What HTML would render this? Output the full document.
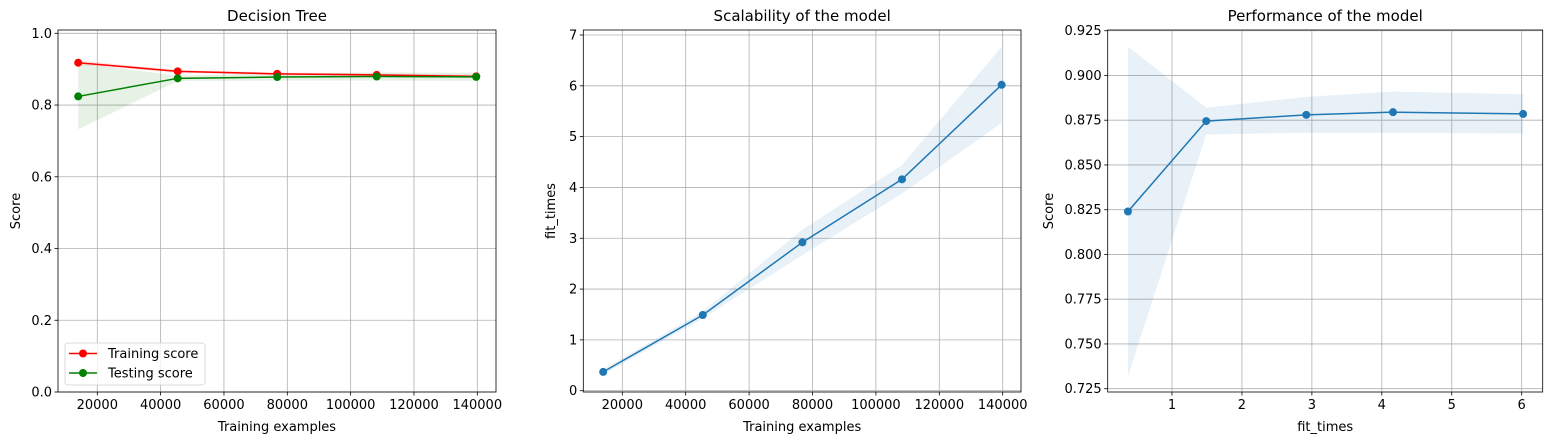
<!DOCTYPE html>
<html><head><meta charset="utf-8"><style>
body{margin:0;background:#fff;}
svg{display:block;font-family:"DejaVu Sans","Liberation Sans",sans-serif;}
</style></head><body>
<svg id="fig" width="1556" height="443" viewBox="0 0 1556 443"></svg>
<script>
const trainSizes=[13966,45389,76812,108235,139658];
const trainMean=[0.918,0.894,0.887,0.884,0.880];
const trainStd=[0.006,0.004,0.004,0.004,0.004];
const testMean=[0.824,0.8745,0.878,0.8795,0.8785];
const testStd=[0.092,0.0075,0.010,0.0115,0.011];
const fitMean=[0.37,1.49,2.92,4.16,6.02];
const fitStd=[0.05,0.07,0.25,0.28,0.75];
const p1YTicks=[0,0.2,0.4,0.6,0.8,1.0];
const sizeXTicks=[20000,40000,60000,80000,100000,120000,140000];
const p2YTicks=[0,1,2,3,4,5,6,7];
const p3YTicks=[0.725,0.75,0.775,0.8,0.825,0.85,0.875,0.9,0.925];
const p3XTicks=[1,2,3,4,5,6];

const NS="http://www.w3.org/2000/svg";
const svg=document.getElementById('fig');
function mk(tag,attrs,parent){const e=document.createElementNS(NS,tag);for(const k in attrs)e.setAttribute(k,attrs[k]);(parent||svg).appendChild(e);return e;}
function lin(d0,d1,r0,r1){return v=>r0+(v-d0)*(r1-r0)/(d1-d0);}

function panel(o){
  const g=mk('g',{});
  
  
  const {L,R,T,B}=o;
  const X=lin(o.xd[0],o.xd[1],o.xr[0],o.xr[1]);
  const Y=lin(o.yd[0],o.yd[1],o.yr[0],o.yr[1]);
  // grid
  o.xt.forEach(v=>{const l=mk('line',{x1:X(v),x2:X(v),y1:T,y2:B,stroke:'#b0b0b0','stroke-width':0.8},g);
    });
  o.yt.forEach(v=>{const l=mk('line',{x1:L,x2:R,y1:Y(v),y2:Y(v),stroke:'#b0b0b0','stroke-width':0.8},g);
    });
  // bands
  o.bands.forEach(b=>{
    let pts=b.x.map((x,i)=>X(x)+','+Y(b.m[i]+b.s[i]));
    pts=pts.concat(b.x.map((x,i)=>X(x)+','+Y(b.m[i]-b.s[i])).reverse());
    const p=mk('polygon',{points:pts.join(' '),fill:b.c,'fill-opacity':0.1,stroke:'none'},g);
    
  });
  o.lines.forEach(s=>{
    const pl=mk('polyline',{points:s.x.map((x,i)=>X(x)+','+Y(s.y[i])).join(' '),fill:'none',stroke:s.c,'stroke-width':1.5},g);
    
    s.x.forEach((x,i)=>{const c=mk('circle',{cx:X(x),cy:Y(s.y[i]),r:4,fill:s.c},g);
      });
  });
  const fr=mk('rect',{x:L,y:T,width:R-L,height:B-T,fill:'none',stroke:'#000','stroke-width':0.8},g);
  
  o.xt.forEach(v=>{mk('line',{x1:X(v),x2:X(v),y1:B,y2:B+3.5,stroke:'#000','stroke-width':0.8},g);
    const t=mk('text',{x:X(v),y:B+17,'font-size':13,'text-anchor':'middle',fill:'#000'},g);t.textContent=o.xf(v);
    });
  o.yt.forEach(v=>{mk('line',{x1:L-3.5,x2:L,y1:Y(v),y2:Y(v),stroke:'#000','stroke-width':0.8},g);
    const t=mk('text',{x:L-6,y:Y(v)+4.5,'font-size':13,'text-anchor':'end',fill:'#000'},g);t.textContent=o.yf(v);
    });
  const ti=mk('text',{x:(L+R)/2,y:21,'font-size':15,'text-anchor':'middle',fill:'#000'},g);ti.textContent=o.title;
  
  const xl=mk('text',{x:(L+R)/2,y:431,'font-size':13,'text-anchor':'middle',fill:'#000'},g);xl.textContent=o.xlabel;
  
  const yx=o.ylx, yy=(T+B)/2;
  const yl=mk('text',{x:yx,y:yy,'font-size':13,'text-anchor':'middle',fill:'#000',transform:`rotate(-90 ${yx} ${yy})`},g);yl.textContent=o.ylabel;
  
  return g;
}

panel({name:'decision-tree-panel',L:58,R:496,T:30,B:392,xd:[20000,140000],xr:[97.3,477.3],yd:[0,1],yr:[392,33.3],
  xt:sizeXTicks,yt:p1YTicks,xf:v=>String(v),yf:v=>v.toFixed(1),title:'Decision Tree',xlabel:'Training examples',ylabel:'Score',ylx:20,
  bands:[{name:'training-band',x:trainSizes,m:trainMean,s:trainStd,c:'red'},{name:'testing-band',x:trainSizes,m:testMean,s:testStd,c:'green'}],
  lines:[{name:'training-score',x:trainSizes,y:trainMean,c:'red'},{name:'testing-score',x:trainSizes,y:testMean,c:'green'}]});

panel({name:'scalability-panel',L:583.3,R:1021,T:30,B:392,xd:[20000,140000],xr:[622.3,1002.7],yd:[0,7],yr:[390.7,35],
  xt:sizeXTicks,yt:p2YTicks,xf:v=>String(v),yf:v=>String(v),title:'Scalability of the model',xlabel:'Training examples',ylabel:'fit_times',ylx:555,
  bands:[{name:'fit-time-band',x:trainSizes,m:fitMean,s:fitStd,c:'#1f77b4'}],
  lines:[{name:'fit-time',x:trainSizes,y:fitMean,c:'#1f77b4'}]});

panel({name:'performance-panel',L:1107.7,R:1542.7,T:30,B:392,xd:[1,6],xr:[1172,1521.7],yd:[0.725,0.925],yr:[388.7,30.7],
  xt:p3XTicks,yt:p3YTicks,xf:v=>String(v),yf:v=>v.toFixed(3),title:'Performance of the model',xlabel:'fit_times',ylabel:'Score',ylx:1053,
  bands:[{name:'performance-band',x:fitMean,m:testMean,s:testStd,c:'#1f77b4'}],
  lines:[{name:'performance',x:fitMean,y:testMean,c:'#1f77b4'}]});

// legend
const lg=mk('g',{});


mk('rect',{x:65,y:343,width:140,height:42,rx:3,fill:'#fff','fill-opacity':0.8,stroke:'#d0d0d0','stroke-width':0.8},lg);
[['Training score','red',353.5],['Testing score','green',373]].forEach(([lab,c,y])=>{
  const e=mk('g',{},lg);
  
  
  mk('line',{x1:69,x2:97,y1:y,y2:y,stroke:c,'stroke-width':1.5},e);
  mk('circle',{cx:83,cy:y,r:4,fill:c},e);
  const t=mk('text',{x:108,y:y+4.5,'font-size':13,fill:'#000'},e);t.textContent=lab;
});
</script>
</body></html>
